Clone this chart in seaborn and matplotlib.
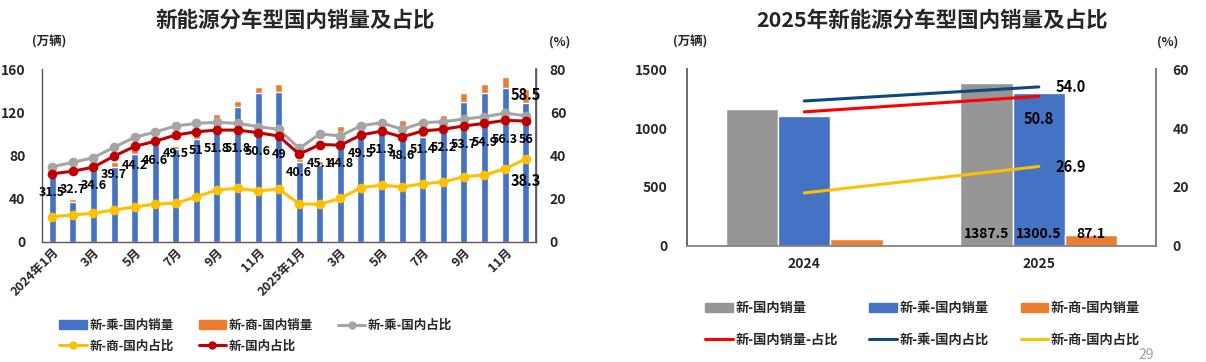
import numpy as np
import pandas as pd
import seaborn as sns
import matplotlib
matplotlib.use("Agg")
import matplotlib.pyplot as plt
from matplotlib.patches import Patch
from matplotlib.lines import Line2D

sns.set_theme(style="white")
plt.rcParams['font.family'] = ['Noto Sans CJK SC', 'DejaVu Sans']
plt.rcParams['axes.unicode_minus'] = False

# ---------------- data: monthly (left chart) ----------------
months = [f"2024-{m:02d}" for m in range(1, 13)] + [f"2025-{m:02d}" for m in range(1, 13)]
month_ticks = ['2024年1月', '3月', '5月', '7月', '9月', '11月',
               '2025年1月', '3月', '5月', '7月', '9月', '11月']
pass_sales = [60.0, 37.1, 74.9, 69.6, 81.4, 90.7, 85.7, 95.0, 112.3, 125.3, 137.7, 139.2,
              74.0, 71.0, 102.0, 102.0, 104.0, 106.7, 97.5, 113.0, 130.0, 137.7, 142.4, 129.0]
comm_sales = [2.5, 2.2, 2.1, 4.4, 4.3, 2.1, 3.4, 4.0, 5.9, 5.3, 5.6, 7.2,
              2.5, 3.8, 5.7, 4.3, 4.0, 6.3, 4.6, 4.6, 8.4, 8.7, 10.2, 12.4]
pass_share = [34.8, 36.8, 39.0, 43.8, 48.4, 50.9, 53.7, 54.9, 55.4, 54.9, 53.4, 52.1,
              43.3, 50.0, 49.1, 53.8, 55.2, 52.1, 55.2, 55.7, 56.9, 58.0, 59.6, 58.5]
comm_share = [11.6, 12.4, 13.2, 14.7, 16.1, 17.5, 17.8, 20.9, 24.0, 24.8, 23.5, 24.5,
              17.5, 17.4, 20.1, 25.1, 26.2, 25.4, 26.9, 27.7, 30.2, 30.9, 33.9, 38.3]
total_share = [31.5, 32.7, 34.6, 39.7, 44.2, 46.6, 49.5, 51, 51.8, 51.8, 50.6, 49,
               40.6, 45.1, 44.8, 49.5, 51.3, 48.6, 51.4, 52.2, 53.7, 54.9, 56.3, 56]

# ---------------- data: yearly (right chart) ----------------
years = ['2024', '2025']
year_total = [1158.0, 1387.5]
year_pass = [1105.0, 1300.5]
year_comm = [53.0, 87.1]
year_total_share = [45.5, 50.8]
year_pass_share = [49.2, 54.0]
year_comm_share = [17.9, 26.9]

BLUE = '#4472C4'
ORANGE = '#ED7D31'
GRAY_L = '#A5A5A5'
GRAY_B = '#969696'
YELLOW = '#FFC000'
DRED = '#C00000'
RED = '#FF0000'
NAVY = '#0B4A80'
TXT = '#000000'

fig = plt.figure(figsize=(12.06, 3.62), dpi=100)

# ================= left chart =================
ax = fig.add_axes([0.0348, 0.3323, 0.4096, 0.4763])
mdf = pd.DataFrame({'month': months, 'pass': pass_sales,
                    'total': np.array(pass_sales) + np.array(comm_sales)})
sns.barplot(data=mdf, x='month', y='total', color=ORANGE, width=0.34,
            saturation=1, ax=ax)
sns.barplot(data=mdf, x='month', y='pass', color=BLUE, width=0.34,
            saturation=1, ax=ax)
ax.set_ylim(0, 160)
ax.set_xlim(-0.5, 23.5)
ax.set_yticks([0, 40, 80, 120, 160])
ax.set_xticks(range(0, 24, 2))
ax.set_xticklabels(month_ticks, rotation=45, ha='right', rotation_mode='anchor',
                   fontsize=9, fontweight='bold')
ax.tick_params(axis='y', labelsize=10, pad=12, length=0)
ax.tick_params(axis='x', length=0, pad=3)
for t in ax.get_yticklabels():
    t.set_fontweight('bold')
ax.set_xlabel('')
ax.set_ylabel('')
ax.spines['top'].set_visible(False)
for s in ['left', 'bottom', 'right']:
    ax.spines[s].set_color('#595959')
    ax.spines[s].set_linewidth(1.0)

ax2 = ax.twinx()
idx = np.arange(len(months))
sns.lineplot(x=idx, y=pass_share, ax=ax2, color=GRAY_L, lw=2.2, marker='o',
             markersize=7, markeredgewidth=0)
sns.lineplot(x=idx, y=comm_share, ax=ax2, color=YELLOW, lw=2.2, marker='o',
             markersize=7, markeredgewidth=0)
sns.lineplot(x=idx, y=total_share, ax=ax2, color=DRED, lw=2.2, marker='o',
             markersize=7, markeredgewidth=0)
ax2.set_ylim(0, 80)
ax2.set_yticks([0, 20, 40, 60, 80])
ax2.tick_params(axis='y', labelsize=10, pad=10, length=0)
for t in ax2.get_yticklabels():
    t.set_fontweight('bold')
ax2.grid(False)
for s in ['top', 'left', 'bottom']:
    ax2.spines[s].set_visible(False)
ax2.spines['right'].set_color('#595959')

for i, v in enumerate(total_share):
    ax2.annotate(f"{v:g}", (i, v), xytext=(0, -13.5), textcoords='offset points',
                 ha='center', va='center', fontsize=9, fontweight='bold', color=TXT)
ax2.annotate(f"{pass_share[-1]:g}", (23, pass_share[-1]), xytext=(0, 15),
             textcoords='offset points', ha='center', va='center',
             fontsize=10.5, fontweight='bold', color=TXT)
ax2.annotate(f"{comm_share[-1]:g}", (23, comm_share[-1]), xytext=(0, -16),
             textcoords='offset points', ha='center', va='center',
             fontsize=10.5, fontweight='bold', color=TXT)

fig.text(0.245, 0.945, '新能源分车型国内销量及占比', ha='center', va='center',
         fontsize=15.5, fontweight='bold')
fig.text(0.041, 0.885, '(万辆)', ha='center', va='center', fontsize=9, fontweight='bold')
fig.text(0.464, 0.885, '(%)', ha='center', va='center', fontsize=9, fontweight='bold')

h_left = [Patch(color=BLUE), Line2D([], [], color=YELLOW, lw=2.2, marker='o', ms=5),
          Patch(color=ORANGE), Line2D([], [], color=DRED, lw=2.2, marker='o', ms=5),
          Line2D([], [], color=GRAY_L, lw=2.2, marker='o', ms=5)]
l_left = ['新-乘-国内销量', '新-商-国内占比', '新-商-国内销量', '新-国内占比', '新-乘-国内占比']
fig.legend(h_left, l_left, ncol=3, loc='center', bbox_to_anchor=(0.212, 0.072),
           frameon=False, prop={'size': 9, 'weight': 'bold'}, handlelength=2.2,
           handletextpad=0.2, columnspacing=2.0, labelspacing=0.6)

# ================= right chart =================
bx = fig.add_axes([0.5697, 0.3218, 0.3889, 0.4868])
ydf = pd.DataFrame({
    'year': years * 3,
    'series': ['新-国内销量'] * 2 + ['新-乘-国内销量'] * 2 + ['新-商-国内销量'] * 2,
    'value': year_total + year_pass + year_comm,
})
sns.barplot(data=ydf, x='year', y='value', hue='series', width=0.67, gap=0,
            palette=[GRAY_B, BLUE, ORANGE], saturation=1, legend=False, ax=bx)
bx.set_ylim(0, 1500)
bx.set_xlim(-0.5, 1.5)
bx.set_yticks([0, 500, 1000, 1500])
bx.tick_params(axis='y', labelsize=10, pad=14, length=0)
bx.tick_params(axis='x', labelsize=10, pad=8, length=0)
for t in bx.get_yticklabels() + bx.get_xticklabels():
    t.set_fontweight('bold')
bx.set_xlabel('')
bx.set_ylabel('')
bx.spines['top'].set_visible(False)
bx.spines['left'].set_color('#595959')
bx.spines['bottom'].set_color('#808080')
bx.spines['right'].set_color('#808080')

# value labels on 2025 bars
for cont in bx.containers:
    bar = cont.patches[1]
    bx.text(bar.get_x() + bar.get_width() / 2, 95, f"{bar.get_height():.1f}",
            ha='center', va='center', fontsize=10, fontweight='bold', color=TXT)

bx2 = bx.twinx()
xs = np.arange(len(years))
sns.lineplot(x=xs, y=year_pass_share, ax=bx2, color=NAVY, lw=2.2)
sns.lineplot(x=xs, y=year_total_share, ax=bx2, color=RED, lw=2.2)
sns.lineplot(x=xs, y=year_comm_share, ax=bx2, color=YELLOW, lw=2.2)
bx2.set_ylim(0, 60)
bx2.set_yticks([0, 20, 40, 60])
bx2.tick_params(axis='y', labelsize=10, pad=12, length=0)
for t in bx2.get_yticklabels():
    t.set_fontweight('bold')
bx2.grid(False)
for s in ['top', 'left', 'bottom']:
    bx2.spines[s].set_visible(False)
bx2.spines['right'].set_color('#808080')

bx2.annotate(f"{year_pass_share[1]:.1f}", (1, year_pass_share[1]), xytext=(12, 0),
             textcoords='offset points', ha='left', va='center',
             fontsize=10.5, fontweight='bold', color=TXT)
bx2.annotate(f"{year_total_share[1]:.1f}", (1, year_total_share[1]), xytext=(0, -16),
             textcoords='offset points', ha='center', va='center',
             fontsize=10.5, fontweight='bold', color=TXT)
bx2.annotate(f"{year_comm_share[1]:.1f}", (1, year_comm_share[1]), xytext=(12, 0),
             textcoords='offset points', ha='left', va='center',
             fontsize=10.5, fontweight='bold', color=TXT)

fig.text(0.773, 0.945, '2025年新能源分车型国内销量及占比', ha='center', va='center',
         fontsize=15.5, fontweight='bold')
fig.text(0.572, 0.885, '(万辆)', ha='center', va='center', fontsize=9, fontweight='bold')
fig.text(0.968, 0.885, '(%)', ha='center', va='center', fontsize=9, fontweight='bold')

h_right = [Patch(color=GRAY_B), Line2D([], [], color=RED, lw=2.2),
           Patch(color=BLUE), Line2D([], [], color=NAVY, lw=2.2),
           Patch(color=ORANGE), Line2D([], [], color=YELLOW, lw=2.2)]
l_right = ['新-国内销量', '新-国内销量-占比', '新-乘-国内销量', '新-乘-国内占比',
           '新-商-国内销量', '新-商-国内占比']
fig.legend(h_right, l_right, ncol=3, loc='center', bbox_to_anchor=(0.765, 0.106),
           frameon=False, prop={'size': 9.5, 'weight': 'bold'}, handlelength=2.1,
           handletextpad=0.2, columnspacing=2.4, labelspacing=1.3)

fig.text(0.95, 0.02, '29', ha='center', va='center', fontsize=10, color='#A0A0A0')

fig.savefig('out.png', dpi=100)
